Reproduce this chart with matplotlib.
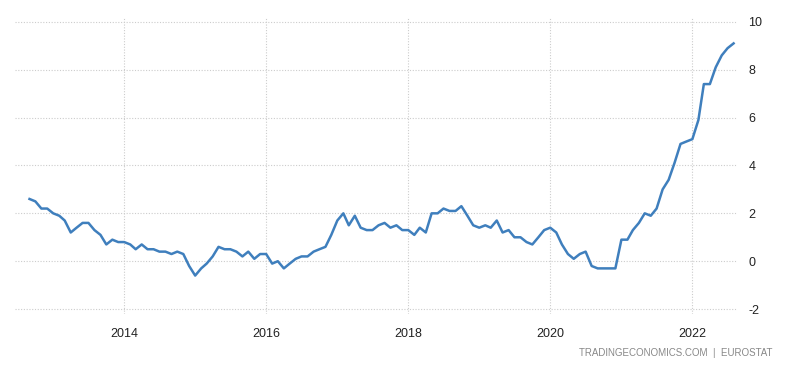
import matplotlib.pyplot as plt
import matplotlib.dates as mdates
import pandas as pd

plt.rcParams['font.family'] = ['Liberation Sans', 'DejaVu Sans']
plt.rcParams['axes.unicode_minus'] = False

# monthly values, Sep 2012 - Aug 2022
months = pd.date_range('2012-09-01', periods=120, freq='MS')
values = [
    2.6, 2.5, 2.2, 2.2,
    2.0, 1.9, 1.7, 1.2, 1.4, 1.6, 1.6, 1.3, 1.1, 0.7, 0.9, 0.8,
    0.8, 0.7, 0.5, 0.7, 0.5, 0.5, 0.4, 0.4, 0.3, 0.4, 0.3, -0.2,
    -0.6, -0.3, -0.1, 0.2, 0.6, 0.5, 0.5, 0.4, 0.2, 0.4, 0.1, 0.3,
    0.3, -0.1, 0.0, -0.3, -0.1, 0.1, 0.2, 0.2, 0.4, 0.5, 0.6, 1.1,
    1.7, 2.0, 1.5, 1.9, 1.4, 1.3, 1.3, 1.5, 1.6, 1.4, 1.5, 1.3,
    1.3, 1.1, 1.4, 1.2, 2.0, 2.0, 2.2, 2.1, 2.1, 2.3, 1.9, 1.5,
    1.4, 1.5, 1.4, 1.7, 1.2, 1.3, 1.0, 1.0, 0.8, 0.7, 1.0, 1.3,
    1.4, 1.2, 0.7, 0.3, 0.1, 0.3, 0.4, -0.2, -0.3, -0.3, -0.3, -0.3,
    0.9, 0.9, 1.3, 1.6, 2.0, 1.9, 2.2, 3.0, 3.4, 4.1, 4.9, 5.0,
    5.1, 5.9, 7.4, 7.4, 8.1, 8.6, 8.9, 9.1,
]
year_ticks = ['2014', '2016', '2018', '2020', '2022']
y_ticks = [-2, 0, 2, 4, 6, 8, 10]

fig = plt.figure(figsize=(7.96, 3.71), dpi=100)
ax = fig.add_axes([0.019, 0.154, 0.907, 0.800])

ax.plot(months, values, color='#3f7fbd', linewidth=1.8)

ax.set_xlim(pd.Timestamp('2012-06-19'), pd.Timestamp('2022-08-19'))
ax.set_ylim(-2.2, 10.2)

ax.set_xticks([pd.Timestamp(y + '-01-01') for y in year_ticks])
ax.xaxis.set_major_formatter(mdates.DateFormatter('%Y'))
ax.set_yticks(y_ticks)
ax.yaxis.tick_right()

ax.tick_params(axis='both', length=0, labelsize=9, colors='#222222')
ax.tick_params(axis='x', pad=10)
ax.tick_params(axis='y', pad=8)

ax.grid(True, color='#cccccc', linestyle=(0, (1, 1.5)), linewidth=0.8)
for s in ax.spines.values():
    s.set_visible(False)

fig.text(0.970, 0.048, 'TRADINGECONOMICS.COM  |  EUROSTAT', ha='right',
         va='center', fontsize=7, color='#888888')

fig.savefig('out.png', dpi=100)
